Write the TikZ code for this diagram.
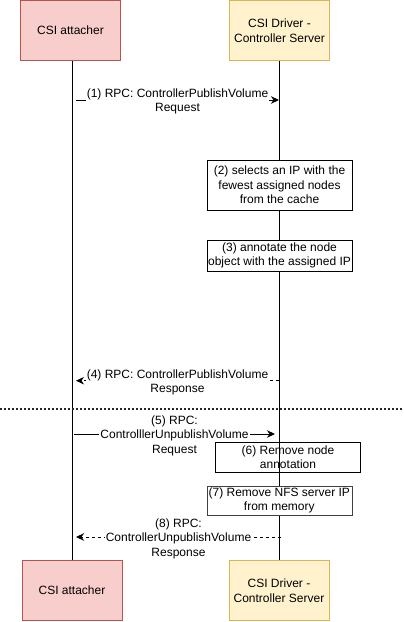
\documentclass[tikz,border=0pt]{standalone}
\usepackage{fontspec}
\setmainfont{Liberation Sans}
\usetikzlibrary{arrows.meta}
\definecolor{pinkfill}{HTML}{F8CECC}
\definecolor{pinkline}{HTML}{B85450}
\definecolor{yelfill}{HTML}{FFF2CC}
\definecolor{yelline}{HTML}{D6B656}
\tikzset{
  txt/.style={font=\fontsize{12}{14.5}\selectfont, align=center},
  actorA/.style={txt, draw=pinkline, fill=pinkfill, minimum width=100pt, minimum height=60pt, inner sep=0pt},
  actorB/.style={txt, draw=yelline, fill=yelfill, minimum width=100pt, minimum height=60pt, inner sep=0pt},
  stepbox/.style={txt, draw=black, fill=white, minimum width=145pt, inner sep=0pt},
  openbox/.style={txt, draw=black, minimum width=145pt, inner sep=0pt},
  msglabel/.style={txt, fill=white, inner sep=1pt, yshift=-1.5pt},
  lifeline/.style={draw=black, line width=1pt},
  msg/.style={line width=0.9pt, -{Stealth[length=8pt,width=7.5pt,inset=2.5pt]}},
  reply/.style={msg, dash pattern=on 3pt off 3pt},
  sepline/.style={line width=1.6pt, dash pattern=on 1.6pt off 2.4pt, draw=black!85}
}
\begin{document}
\begin{tikzpicture}[x=1pt, y=-1pt]
\useasboundingbox (0,0) rectangle (404,622);
% lifeline end points
\coordinate (l1top) at (72,60.5);
\coordinate (l2top) at (279,60.5);
\node[actorA] (att2) at (72,590.5) {CSI attacher};
\node[actorB] (drv2) at (279,590.5) {CSI Driver -\\Controller Server};
\draw[lifeline] (l1top) -- (att2.north);
\draw[lifeline] (l2top) -- (drv2.north);
% top actors
\node[actorA] (att1) at (70.5,30.5) {CSI attacher};
\node[actorB] (drv1) at (279.5,30.5) {CSI Driver -\\Controller Server};
% separator
\coordinate (sepL) at (0,409);
\coordinate (sepR) at (404,409);
\draw[sepline] (sepL) -- (sepR);
% message 1
\coordinate (m1s) at (76,100);
\coordinate (m1e) at (279,100);
\draw[msg] (m1s) -- node[msglabel] {(1) RPC: ControllerPublishVolume\\Request} (m1e);
% step 2
\node[stepbox, minimum height=50pt] (s2) at (279.5,185) {(2) selects an IP with the\\fewest assigned nodes\\from the cache};
% step 3
\node[stepbox, minimum height=30.4pt] (s3) at (279.5,255.5) {(3) annotate the node\\object with the assigned IP};
% message 4
\coordinate (m4s) at (279,380.7);
\coordinate (m4e) at (76,380.7);
\draw[reply] (m4s) -- node[msglabel] {(4) RPC: ControllerPublishVolume\\Response} (m4e);
% message 5
\coordinate (m5s) at (74,434);
\coordinate (m5e) at (275,434);
\draw[msg] (m5s) -- node[msglabel] {(5) RPC:\\ControlllerUnpublishVolume\\Request} (m5e);
% step 6
\node[openbox, minimum height=30pt] (s6) at (288,457.3) {(6) Remove node\\annotation};
% step 7
\node[stepbox, minimum height=29.6pt, draw=black!75] (s7) at (279.3,500.5) {(7) Remove NFS server IP\\from memory};
% message 8
\coordinate (m8s) at (281,537);
\coordinate (m8e) at (76,537);
\draw[reply] (m8s) -- node[msglabel] {(8) RPC:\\ControllerUnpublishVolume\\Response} (m8e);
\end{tikzpicture}
\end{document}
